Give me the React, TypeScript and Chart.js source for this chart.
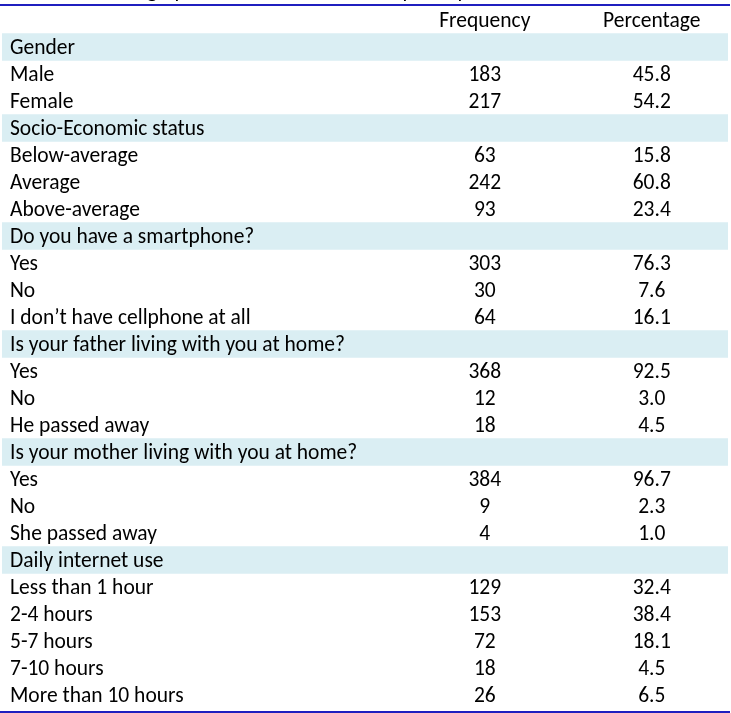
import React, { useEffect, useRef } from "react";
import { Chart, registerables } from "chart.js";

Chart.register(...registerables);

const columnHeaders = ["Frequency", "Percentage"];

const categories = [
  "Gender",
  "Male",
  "Female",
  "Socio-Economic status",
  "Below-average",
  "Average",
  "Above-average",
  "Do you have a smartphone?",
  "Yes",
  "No",
  "I don\u2019t have cellphone at all",
  "Is your father living with you at home?",
  "Yes",
  "No",
  "He passed away",
  "Is your mother living with you at home?",
  "Yes",
  "No",
  "She passed away",
  "Daily internet use",
  "Less than 1 hour",
  "2-4 hours",
  "5-7 hours",
  "7-10 hours",
  "More than 10 hours",
];

const sectionTitles = [
  "Gender",
  "Socio-Economic status",
  "Do you have a smartphone?",
  "Is your father living with you at home?",
  "Is your mother living with you at home?",
  "Daily internet use",
];

const frequency: (number | null)[] = [
  null, 183, 217,
  null, 63, 242, 93,
  null, 303, 30, 64,
  null, 368, 12, 18,
  null, 384, 9, 4,
  null, 129, 153, 72, 18, 26,
];

const percentage: (number | null)[] = [
  null, 45.8, 54.2,
  null, 15.8, 60.8, 23.4,
  null, 76.3, 7.6, 16.1,
  null, 92.5, 3.0, 4.5,
  null, 96.7, 2.3, 1.0,
  null, 32.4, 38.4, 18.1, 4.5, 6.5,
];

const titleText = "Table 1: Demographic characteristics of the participants";

const FONT_FAMILY = "Carlito, Calibri, Lato, 'Liberation Sans', sans-serif";
const FONT_SIZE = 21.5;
const TEXT_SHIFT = 1.5;

export default function App() {
  const ref = useRef<HTMLCanvasElement | null>(null);

  useEffect(() => {
    document.body.style.margin = "0";
    const canvas = ref.current;
    if (!canvas) return;

    const rowLabels = ["", ...categories];
    const bandData = rowLabels.map((lab, i) =>
      i > 0 && sectionTitles.includes(lab) && frequency[i - 1] === null ? [0, 1] : null
    );

    const tablePlugin = {
      id: "tableText",
      afterDatasetsDraw(chart: any) {
        const ctx = chart.ctx as CanvasRenderingContext2D;
        const xs = chart.scales.x;
        const ys = chart.scales.y;
        const labelX = xs.getPixelForValue(0.011);
        const freqX = xs.getPixelForValue(0.665);
        const pctX = xs.getPixelForValue(0.895);
        ctx.save();
        ctx.fillStyle = "#000000";
        ctx.font = `${FONT_SIZE}px ${FONT_FAMILY}`;
        ctx.textBaseline = "middle";

        // header row
        const hy = ys.getPixelForValue(0) + TEXT_SHIFT;
        ctx.textAlign = "center";
        ctx.fillText(columnHeaders[0], freqX, hy);
        ctx.fillText(columnHeaders[1], pctX, hy);

        categories.forEach((lab, i) => {
          const y = ys.getPixelForValue(i + 1) + TEXT_SHIFT;
          ctx.textAlign = "left";
          ctx.fillText(lab, labelX, y);
          ctx.textAlign = "center";
          if (frequency[i] !== null) ctx.fillText(String(frequency[i]), freqX, y);
          if (percentage[i] !== null) ctx.fillText((percentage[i] as number).toFixed(1), pctX, y);
        });

        // rules
        const w = chart.width;
        ctx.fillStyle = "#1f1fbf";
        ctx.fillRect(0, chart.chartArea.top - 2.5, w - 1, 2);
        ctx.fillRect(0, chart.chartArea.bottom + 2.5, w - 1, 2);

        // clipped title
        ctx.fillStyle = "#000000";
        ctx.textAlign = "left";
        ctx.textBaseline = "alphabetic";
        const pre = ctx.measureText("Table 1: Demo").width;
        ctx.fillText(titleText, 147 - pre, -3);
        ctx.restore();
      },
    };

    const chart = new Chart(canvas, {
      type: "bar",
      data: {
        labels: rowLabels,
        datasets: [
          {
            data: bandData as any,
            backgroundColor: "#daeef3",
            borderWidth: 0,
            barPercentage: 1,
            categoryPercentage: 1,
          },
        ],
      },
      options: {
        indexAxis: "y",
        responsive: false,
        animation: false,
        events: [],
        layout: { padding: { left: 2, right: 3, top: 6.5, bottom: 4.5 } },
        plugins: {
          legend: { display: false },
          tooltip: { enabled: false },
          title: { display: false },
        },
        scales: {
          x: { type: "linear", min: 0, max: 1, display: false, grid: { display: false } },
          y: { type: "category", display: false, grid: { display: false }, offset: true },
        },
      },
      plugins: [tablePlugin],
    });

    return () => chart.destroy();
  }, []);

  return <canvas ref={ref} width={731} height={713} style={{ display: "block" }} />;
}
